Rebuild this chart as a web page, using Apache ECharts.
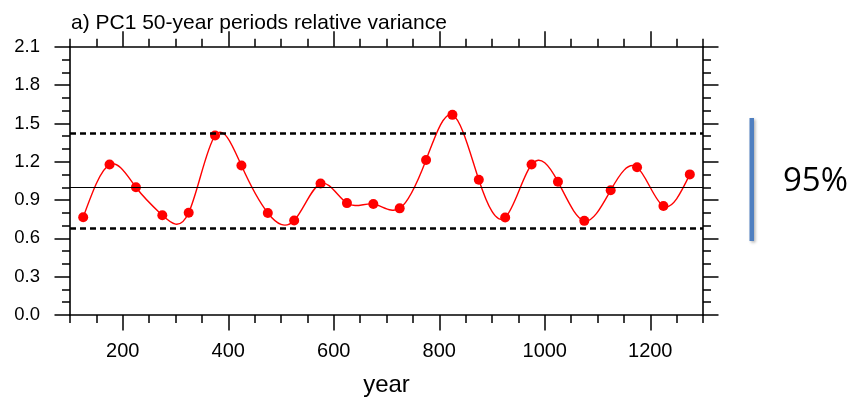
<!DOCTYPE html>
<html>
<head>
<meta charset="utf-8">
<script src="https://cdn.jsdelivr.net/npm/echarts@6/dist/echarts.min.js"></script>
<style>
  html, body { margin: 0; padding: 0; background: #ffffff; }
  #chart { width: 851px; height: 402px; }
</style>
</head>
<body>
<div id="chart"></div>
<script>
// Centre years of the 50-year periods
const years = [125, 175, 225, 275, 325, 375, 425, 475, 525, 575, 625, 675,
               725, 775, 825, 875, 925, 975, 1025, 1075, 1125, 1175, 1225, 1275];
// PC1 relative variance for each period
const relVariance = [0.766, 1.178, 1.000, 0.781, 0.801, 1.405, 1.170, 0.799, 0.740, 1.029, 0.876, 0.869,
                     0.835, 1.214, 1.567, 1.059, 0.763, 1.178, 1.044, 0.737, 0.977, 1.157, 0.853, 1.101];
// Reference level and 95% bounds
const meanLevel = 1.0;
const upperBound = 1.42;
const lowerBound = 0.68;
// Axis ticks
const xMajorTicks = [200, 400, 600, 800, 1000, 1200];
const xRange = [100, 1300];
const yRange = [0, 2.1];
const yStep = 0.3;

const FONT = 'Liberation Sans, Arial, Helvetica, sans-serif';
const AXIS_W = 1.6;

function xAxisDef(position, major, withLabels) {
  const tick = { show: true, inside: false, length: major ? 15.5 : 8,
                 lineStyle: { color: '#000', width: 1.5 } };
  if (major) tick.customValues = xMajorTicks;
  const label = { show: withLabels, margin: 26, fontSize: 20, color: '#000', fontFamily: FONT,
                  formatter: v => String(v) };
  if (withLabels) label.customValues = xMajorTicks;
  const def = {
    type: 'value', position: position, min: xRange[0], max: xRange[1], interval: 50,
    axisLine: { show: !major, onZero: false, lineStyle: { color: '#000', width: AXIS_W } },
    axisTick: tick,
    axisLabel: label,
    splitLine: { show: false }
  };
  if (withLabels) {
    def.name = 'year';
    def.nameLocation = 'middle';
    def.nameGap = 58;
    def.nameTextStyle = { fontSize: 24, color: '#000', fontFamily: FONT };
  }
  return def;
}

function yAxisDef(position, withLabels) {
  return {
    type: 'value', position: position, min: yRange[0], max: yRange[1], interval: yStep,
    axisLine: { show: true, onZero: false, lineStyle: { color: '#000', width: AXIS_W } },
    axisTick: { show: true, inside: false, length: 15.5, lineStyle: { color: '#000', width: 1.5 } },
    minorTick: { show: true, splitNumber: 3, length: 8, lineStyle: { color: '#000', width: 1.5 } },
    axisLabel: { show: withLabels, margin: 30, fontSize: 18.5, color: '#000', fontFamily: FONT,
                 formatter: v => v.toFixed(1) },
    splitLine: { show: false },
    minorSplitLine: { show: false }
  };
}

// Natural cubic spline through pixel points, returned as an SVG path of Bezier segments
function splinePath(pts) {
  const n = pts.length;
  if (n < 2) return '';
  const h = [], d = [];
  for (let i = 0; i < n - 1; i++) {
    h.push(pts[i + 1][0] - pts[i][0]);
    d.push((pts[i + 1][1] - pts[i][1]) / h[i]);
  }
  // second derivatives, natural end conditions
  const M = new Array(n).fill(0);
  if (n > 2) {
    const a = [], b = [], c = [], r = [];
    for (let i = 1; i < n - 1; i++) {
      a.push(h[i - 1]); b.push(2 * (h[i - 1] + h[i])); c.push(h[i]);
      r.push(6 * (d[i] - d[i - 1]));
    }
    const m = b.length;
    for (let i = 1; i < m; i++) {
      const w = a[i] / b[i - 1];
      b[i] -= w * c[i - 1];
      r[i] -= w * r[i - 1];
    }
    const sol = new Array(m);
    sol[m - 1] = r[m - 1] / b[m - 1];
    for (let i = m - 2; i >= 0; i--) sol[i] = (r[i] - c[i] * sol[i + 1]) / b[i];
    for (let i = 0; i < m; i++) M[i + 1] = sol[i];
  }
  let path = 'M' + pts[0][0] + ' ' + pts[0][1];
  for (let i = 0; i < n - 1; i++) {
    const s0 = d[i] - h[i] * (2 * M[i] + M[i + 1]) / 6;
    const s1 = d[i] + h[i] * (M[i] + 2 * M[i + 1]) / 6;
    const k = h[i] / 3;
    path += ' C' + (pts[i][0] + k) + ' ' + (pts[i][1] + s0 * k) + ' ' +
            (pts[i + 1][0] - k) + ' ' + (pts[i + 1][1] - s1 * k) + ' ' +
            pts[i + 1][0] + ' ' + pts[i + 1][1];
  }
  return path;
}

const chart = echarts.init(document.getElementById('chart'), null, { renderer: 'canvas' });

chart.setOption({
  animation: false,
  backgroundColor: '#ffffff',
  title: {
    text: 'a) PC1 50-year periods relative variance',
    left: 66, top: 8,
    textStyle: { fontSize: 21, fontWeight: 'normal', color: '#000', fontFamily: FONT }
  },
  grid: { left: 70, right: 148, top: 46.8, bottom: 83.7, containLabel: false },
  xAxis: [
    xAxisDef('bottom', false, true),
    xAxisDef('bottom', true, false),
    xAxisDef('top', false, false),
    xAxisDef('top', true, false)
  ],
  yAxis: [
    yAxisDef('left', true),
    yAxisDef('right', false)
  ],
  graphic: [
    {
      type: 'rect', left: 749.5, top: 118, z: 10,
      shape: { width: 4.5, height: 123 },
      style: { fill: '#4f7fc0', shadowBlur: 3, shadowOffsetX: 1.5, shadowOffsetY: 1.5,
               shadowColor: 'rgba(0,0,0,0.3)' }
    },
    {
      type: 'text', left: 783, top: 165, z: 10,
      style: { text: '95%', fontSize: 33, fill: '#000', fontFamily: 'Open Sans, Lato, sans-serif' }
    }
  ],
  series: [
    {
      // reference levels
      type: 'line', data: [], silent: true, z: 1,
      markLine: {
        silent: true, symbol: 'none', label: { show: false }, animation: false,
        data: [
          { yAxis: meanLevel, lineStyle: { color: '#000', width: 1.2, type: 'solid' } },
          { yAxis: upperBound, lineStyle: { color: '#000', width: 2.6, type: [6, 4] } },
          { yAxis: lowerBound, lineStyle: { color: '#000', width: 2.6, type: [6, 4] } }
        ]
      }
    },
    {
      // spline curve through the period values
      type: 'custom', z: 2, silent: true,
      data: [0],
      renderItem: function (params, api) {
        const pts = years.map((y, i) => api.coord([y, relVariance[i]]));
        return {
          type: 'path',
          shape: { pathData: splinePath(pts) },
          style: { stroke: '#ff0000', fill: 'none', lineWidth: 1.4 }
        };
      }
    },
    {
      type: 'scatter', z: 3,
      data: years.map((y, i) => [y, relVariance[i]]),
      symbol: 'circle', symbolSize: 10,
      itemStyle: { color: '#ff0000', opacity: 1 }
    }
  ]
});
</script>
</body>
</html>
